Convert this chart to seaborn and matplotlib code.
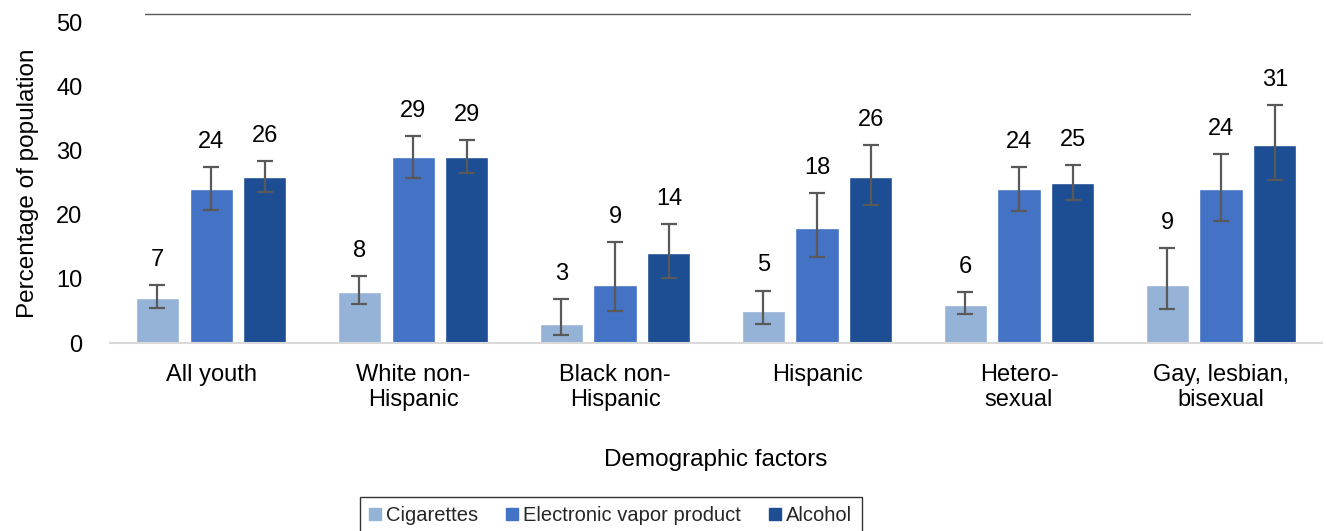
import pandas as pd
import matplotlib.pyplot as plt
import seaborn as sns
from matplotlib.lines import Line2D
from matplotlib.patches import Patch

# 数据
groups = ['All youth', 'White non-\nHispanic', 'Black non-\nHispanic', 'Hispanic',
          'Hetero-\nsexual', 'Gay, lesbian,\nbisexual']
substances = ['Cigarettes', 'Electronic vapor product', 'Alcohol']
cigarettes = [7, 8, 3, 5, 6, 9]
vapor = [24, 29, 9, 18, 24, 24]
alcohol = [26, 29, 14, 26, 25, 31]
# 置信区间 下限/上限
cig_low = [5.4, 6.1, 1.3, 3.0, 4.5, 5.3]
cig_high = [9.0, 10.4, 6.9, 8.2, 8.0, 14.8]
vap_low = [20.8, 25.8, 5.0, 13.4, 20.6, 19.0]
vap_high = [27.5, 32.3, 15.7, 23.4, 27.5, 29.5]
alc_low = [23.6, 26.5, 10.2, 21.6, 22.3, 25.5]
alc_high = [28.4, 31.7, 18.6, 30.9, 27.8, 37.1]

colors = ['#95B3D7', '#4472C4', '#1D4D93']

df = pd.DataFrame({
    'group': groups * 3,
    'substance': [s for s in substances for _ in groups],
    'value': cigarettes + vapor + alcohol,
    'low': cig_low + vap_low + alc_low,
    'high': cig_high + vap_high + alc_high,
})

sns.set_theme(style='white')
plt.rcParams['font.family'] = ['Liberation Sans', 'DejaVu Sans']

fig = plt.figure(figsize=(13.26, 5.31), dpi=100)
ax = fig.add_axes([0.083, 0.354, 0.914, 0.603])

sns.barplot(data=df, x='group', y='value', hue='substance', palette=colors, saturation=1,
            width=0.8, gap=0.2, errorbar=None, ax=ax, legend=False)

# 误差线和数据标签
for cont, sub in zip(ax.containers, substances):
    d = df[df['substance'] == sub]
    for bar, (_, row) in zip(cont, d.iterrows()):
        xc = bar.get_x() + bar.get_width() / 2
        ax.errorbar(xc, row['value'],
                    yerr=[[row['value'] - row['low']], [row['high'] - row['value']]],
                    fmt='none', ecolor='#595959', elinewidth=1.6, capsize=5.5, capthick=1.6)
        ax.text(xc, row['high'] + 2.2, f"{row['value']}", ha='center', va='bottom',
                fontsize=17, color='black')

ax.set_ylim(0, 50)
ax.set_yticks(range(0, 51, 10))
ax.set_xlim(-0.5, 5.5)
ax.tick_params(axis='both', length=0, labelsize=17, colors='#000000')
ax.tick_params(axis='y', pad=20)
ax.tick_params(axis='x', pad=15)
for s in ['top', 'right', 'left']:
    ax.spines[s].set_visible(False)
ax.spines['bottom'].set_color('#D9D9D9')
ax.spines['bottom'].set_linewidth(1.5)
ax.set_ylabel('Percentage of population', fontsize=17.5, labelpad=12, color='black')
ax.set_xlabel('Demographic factors', fontsize=17.5, labelpad=27, color='black')

# 顶部横线
fig.add_artist(Line2D([145 / 1326, 1190 / 1326], [1 - 14 / 531, 1 - 14 / 531],
                      color='#595959', linewidth=1.0))

handles = [Patch(color=c, label=s) for c, s in zip(colors, substances)]
leg = fig.legend(handles=handles, loc='upper center', bbox_to_anchor=(0.4605, 1 - 487 / 531),
                 ncol=3, fontsize=14.5, frameon=True, fancybox=False, edgecolor='black',
                 handlelength=0.6, handleheight=0.6, handletextpad=0.25, columnspacing=1.4,
                 borderpad=0.45)
leg.get_frame().set_linewidth(1.0)

fig.savefig('out.png', dpi=100)
